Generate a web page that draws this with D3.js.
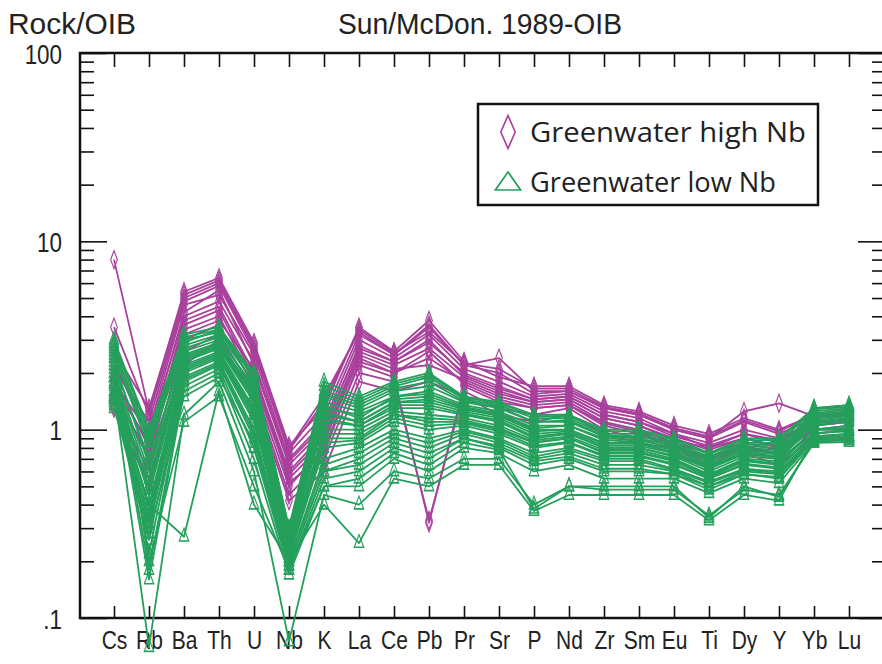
<!DOCTYPE html>
<html>
<head>
<meta charset="utf-8">
<script src="https://cdn.jsdelivr.net/npm/d3@7"></script>
<style>
  html, body { margin: 0; padding: 0; background: #fff; }
  svg { display: block; }
  .narrow { font-family: "Liberation Sans", Arial, sans-serif; }
</style>
</head>
<body>
<svg id="chart" width="882" height="664"></svg>
<script>
// Trace elements, ordered for the OIB-normalised spider diagram
const elements = ["Cs","Rb","Ba","Th","U","Nb","K","La","Ce","Pb","Pr","Sr","P","Nd","Zr","Sm","Eu","Ti","Dy","Y","Yb","Lu"];

// Sample/OIB ratios, Greenwater high-Nb group (one array per sample, in element order)
const highNb = [
  [8.0, 1.25, 5.4, 6.4, 2.9, 0.82, 1.3, 3.5, 2.6, 3.8, 2.3, 1.9, 1.7, 1.7, 1.35, 1.25, 1.05, 0.95, 1.15, 1.0, 1.2, 1.25],
  [3.5, 1.2, 5.0, 6.0, 2.7, 0.75, 1.2, 3.2, 2.5, 3.5, 2.2, 2.4, 1.6, 1.6, 1.3, 1.2, 1.0, 0.9, 1.1, 0.95, 1.15, 1.2],
  [2.8, 1.0, 4.6, 5.2, 2.5, 0.7, 1.1, 3.0, 2.4, 3.2, 2.1, 1.8, 1.5, 1.55, 1.25, 1.15, 0.95, 0.85, 1.0, 0.9, 1.1, 1.15],
  [2.3, 0.9, 4.2, 5.5, 2.2, 0.65, 1.0, 2.8, 2.3, 2.9, 2.0, 1.7, 1.45, 1.5, 1.2, 1.1, 0.95, 0.8, 0.95, 0.85, 1.1, 1.1],
  [1.9, 0.8, 3.8, 4.5, 2.0, 0.6, 0.95, 2.6, 2.2, 2.7, 1.9, 1.6, 1.4, 1.45, 1.15, 1.05, 0.9, 0.78, 0.9, 0.8, 1.05, 1.1],
  [1.6, 0.7, 3.4, 4.0, 1.8, 0.55, 0.85, 2.4, 2.0, 2.4, 1.8, 1.5, 1.35, 1.4, 1.1, 1.0, 0.85, 0.75, 0.85, 0.78, 1.0, 1.05],
  [1.4, 0.6, 3.0, 3.6, 1.7, 0.5, 0.8, 2.2, 1.9, 0.32, 1.7, 1.4, 1.3, 1.35, 1.05, 0.95, 0.8, 0.7, 0.8, 0.75, 1.0, 1.0],
  [1.3, 0.5, 2.6, 3.2, 1.6, 0.45, 0.7, 2.0, 1.8, 0.33, 1.6, 1.3, 1.2, 1.3, 1.0, 0.9, 0.78, 0.68, 0.78, 0.7, 0.95, 1.0],
  [2.1, 1.1, 4.8, 5.8, 2.6, 0.8, 1.5, 3.3, 2.5, 3.6, 2.2, 2.0, 1.55, 1.6, 1.3, 1.2, 1.0, 0.9, 1.25, 1.38, 1.18, 1.2],
  [1.5, 0.75, 3.6, 4.3, 1.9, 0.58, 0.9, 2.5, 2.1, 2.2, 1.85, 1.55, 1.4, 1.45, 1.15, 1.05, 0.88, 0.8, 0.9, 0.82, 1.05, 1.1],
  [1.8, 0.95, 4.0, 4.8, 2.3, 0.68, 1.05, 2.7, 2.3, 3.0, 1.95, 1.65, 1.45, 1.5, 1.2, 1.1, 0.92, 0.82, 0.95, 0.88, 1.08, 1.12],
  [1.35, 0.55, 2.2, 3.0, 1.5, 0.42, 0.6, 1.8, 1.6, 1.8, 1.5, 1.2, 1.1, 1.2, 0.95, 0.85, 0.75, 0.62, 0.75, 0.65, 0.92, 0.95],
  [2.6, 1.3, 5.2, 6.2, 2.8, 0.78, 1.4, 3.4, 2.55, 3.3, 2.25, 2.1, 1.65, 1.65, 1.32, 1.22, 1.02, 0.92, 1.12, 0.98, 1.2, 1.22],
  [1.7, 0.85, 3.2, 3.8, 2.1, 0.52, 0.75, 2.3, 2.0, 2.6, 1.75, 1.45, 1.3, 1.35, 1.08, 0.98, 0.82, 0.72, 0.82, 0.75, 1.0, 1.02]
];

// Sample/OIB ratios, Greenwater low-Nb group
const lowNb = [
  [3.0, 1.0, 3.2, 3.5, 2.0, 0.3, 1.8, 1.5, 1.8, 2.0, 1.5, 1.4, 1.2, 1.2, 1.0, 1.0, 0.9, 0.75, 0.9, 0.9, 1.3, 1.35],
  [2.7, 0.9, 3.0, 3.3, 1.9, 0.29, 1.6, 1.4, 1.7, 1.9, 1.45, 1.35, 1.15, 1.15, 0.95, 0.95, 0.85, 0.72, 0.85, 0.85, 1.28, 1.32],
  [2.5, 0.8, 2.8, 3.2, 1.8, 0.28, 1.5, 1.3, 1.6, 1.7, 1.4, 1.3, 1.1, 1.1, 0.92, 0.9, 0.82, 0.7, 0.82, 0.8, 1.25, 1.3],
  [2.2, 0.7, 2.6, 3.0, 1.7, 0.27, 1.4, 1.25, 1.5, 1.6, 1.35, 1.25, 1.05, 1.05, 0.9, 0.88, 0.8, 0.68, 0.8, 0.78, 1.2, 1.25],
  [2.0, 0.6, 2.5, 2.9, 1.6, 0.26, 1.3, 1.2, 1.45, 1.5, 1.3, 1.2, 1.0, 1.0, 0.85, 0.85, 0.78, 0.65, 0.78, 0.75, 1.15, 1.2],
  [1.8, 0.5, 2.4, 2.8, 1.5, 0.25, 1.2, 1.1, 1.4, 1.4, 1.25, 1.15, 0.95, 0.98, 0.82, 0.82, 0.75, 0.63, 0.75, 0.72, 1.1, 1.15],
  [1.7, 0.45, 2.3, 2.7, 1.4, 0.24, 1.1, 1.05, 1.3, 1.3, 1.2, 1.1, 0.9, 0.95, 0.8, 0.8, 0.72, 0.6, 0.72, 0.7, 1.05, 1.1],
  [1.6, 0.4, 2.2, 2.6, 1.3, 0.23, 1.0, 1.0, 1.25, 1.2, 1.15, 1.05, 0.88, 0.92, 0.78, 0.78, 0.7, 0.58, 0.7, 0.68, 1.0, 1.05],
  [1.5, 0.35, 2.1, 2.5, 1.2, 0.22, 0.9, 0.9, 1.2, 1.1, 1.1, 1.0, 0.85, 0.9, 0.75, 0.75, 0.68, 0.56, 0.68, 0.65, 1.0, 1.0],
  [1.4, 0.32, 2.0, 2.4, 1.1, 0.21, 0.8, 0.85, 1.1, 1.0, 1.05, 0.95, 0.8, 0.85, 0.72, 0.72, 0.65, 0.55, 0.65, 0.62, 0.95, 1.0],
  [1.3, 0.3, 1.9, 2.3, 1.0, 0.2, 0.7, 0.8, 1.0, 0.9, 1.0, 0.9, 0.75, 0.8, 0.7, 0.7, 0.62, 0.53, 0.62, 0.6, 0.92, 0.95],
  [2.4, 0.22, 1.8, 2.2, 0.9, 0.19, 0.6, 0.7, 0.9, 0.8, 0.95, 0.85, 0.7, 0.75, 0.65, 0.65, 0.6, 0.5, 0.6, 0.58, 0.9, 0.92],
  [2.1, 0.18, 1.7, 2.1, 0.8, 0.18, 0.55, 0.6, 0.8, 0.7, 0.9, 0.8, 0.65, 0.7, 0.6, 0.6, 0.58, 0.48, 0.58, 0.55, 0.88, 0.9],
  [1.9, 0.16, 1.6, 2.0, 0.7, 0.17, 0.5, 0.5, 0.7, 0.6, 0.8, 0.75, 0.6, 0.65, 0.55, 0.55, 0.55, 0.46, 0.55, 0.52, 0.86, 0.88],
  [1.6, 0.07, 1.2, 1.8, 0.6, 0.075, 0.45, 0.4, 0.6, 0.55, 0.7, 0.7, 0.4, 0.5, 0.48, 0.48, 0.48, 0.35, 0.48, 0.45, 0.85, 0.86],
  [1.5, 0.4, 0.27, 1.6, 0.4, 0.2, 0.4, 0.25, 0.55, 0.5, 0.65, 0.65, 0.37, 0.45, 0.45, 0.45, 0.45, 0.33, 0.45, 0.42, 0.9, 0.88],
  [2.6, 0.85, 2.9, 3.4, 1.75, 0.28, 1.55, 1.35, 1.65, 1.8, 1.42, 1.32, 1.1, 1.12, 0.93, 0.92, 0.84, 0.7, 0.84, 0.82, 1.22, 1.28],
  [2.3, 0.65, 2.7, 3.1, 1.65, 0.26, 1.35, 1.15, 1.5, 1.55, 1.32, 1.22, 1.02, 1.05, 0.88, 0.86, 0.78, 0.66, 0.78, 0.76, 1.18, 1.22],
  [1.9, 0.55, 2.45, 2.85, 1.55, 0.25, 1.25, 1.1, 1.4, 1.45, 1.28, 1.18, 0.98, 1.0, 0.84, 0.84, 0.76, 0.64, 0.76, 0.74, 1.12, 1.18],
  [1.75, 0.48, 2.35, 2.75, 1.45, 0.24, 1.15, 1.05, 1.35, 1.35, 1.22, 1.12, 0.92, 0.96, 0.8, 0.8, 0.73, 0.62, 0.74, 0.71, 1.08, 1.12],
  [1.55, 0.38, 2.15, 2.55, 1.25, 0.22, 0.95, 0.95, 1.2, 1.15, 1.12, 1.02, 0.86, 0.9, 0.76, 0.76, 0.69, 0.57, 0.69, 0.66, 1.0, 1.02],
  [1.45, 0.34, 2.05, 2.45, 1.15, 0.21, 0.85, 0.88, 1.15, 1.05, 1.08, 0.98, 0.82, 0.86, 0.73, 0.73, 0.66, 0.55, 0.66, 0.63, 0.96, 0.98],
  [1.35, 0.26, 1.85, 2.25, 0.95, 0.2, 0.65, 0.75, 0.95, 0.85, 0.98, 0.88, 0.72, 0.78, 0.68, 0.68, 0.61, 0.52, 0.61, 0.59, 0.9, 0.93],
  [2.8, 0.2, 1.1, 1.5, 0.5, 0.18, 0.5, 0.55, 0.75, 0.65, 0.85, 0.78, 0.38, 0.5, 0.5, 0.5, 0.5, 0.34, 0.5, 0.44, 0.87, 0.9],
  [1.45, 0.28, 1.5, 1.9, 0.85, 0.19, 0.6, 0.65, 0.85, 0.75, 0.9, 0.82, 0.68, 0.72, 0.62, 0.62, 0.58, 0.5, 0.58, 0.56, 0.9, 0.92],
  [2.9, 0.95, 3.1, 3.4, 1.95, 0.3, 1.7, 1.45, 1.75, 1.95, 1.48, 1.38, 1.18, 1.18, 0.98, 0.98, 0.88, 0.74, 0.88, 0.88, 1.3, 1.35]
];

const groupNames = ["Greenwater high Nb", "Greenwater low Nb"];
const groupColors = ["#a8409c", "#25a05c"];
const majorTicks = [0.1, 1, 10, 100];
const majorLabels = [".1", "1", "10", "100"];

const svg = d3.select("#chart");
const frame = { left: 80, right: 884, top: 53, bottom: 618 };

const x = d3.scalePoint().domain(elements).range([114, 849]);
const y = d3.scaleLog().domain([0.1, 100]).range([frame.bottom, frame.top]);

// minor ticks 2..9 for each decade
const minorTicks = [];
for (let d = 0.1; d < 100; d *= 10) {
  for (let k = 2; k <= 9; k++) minorTicks.push(+(k * d).toPrecision(3));
}

// squeeze a text element horizontally (condensed look)
function condense(sel, factor) {
  sel.each(function () {
    const w = this.getComputedTextLength();
    if (w > 0) {
      d3.select(this).attr("textLength", w * factor).attr("lengthAdjust", "spacingAndGlyphs");
    }
  });
}

// ---- axes ----
const axG = svg.append("g").attr("class", "axes");

axG.append("g").attr("transform", `translate(${frame.left},0)`)
  .call(d3.axisLeft(y).tickValues(minorTicks).tickSize(-14).tickFormat(""));
const yLab = axG.append("g").attr("transform", `translate(${frame.left},0)`)
  .call(d3.axisLeft(y).tickValues(majorTicks).tickSize(-27).tickPadding(0)
    .tickFormat((d, i) => majorLabels[i]));
axG.append("g").attr("transform", `translate(${frame.right},0)`)
  .call(d3.axisRight(y).tickValues(minorTicks).tickSize(-12).tickFormat(""));
axG.append("g").attr("transform", `translate(${frame.right},0)`)
  .call(d3.axisRight(y).tickValues(majorTicks).tickSize(-26).tickFormat(""));

const xLab = axG.append("g").attr("transform", `translate(0,${frame.bottom})`)
  .call(d3.axisBottom(x).tickSize(-12).tickPadding(0));
axG.append("g").attr("transform", `translate(0,${frame.top})`)
  .call(d3.axisTop(x).tickSize(-14).tickFormat(""));

axG.selectAll(".domain").remove();
axG.selectAll(".tick line").attr("stroke", "#111").attr("stroke-width", 1.6);
axG.selectAll(".tick text")
  .attr("class", "narrow")
  .attr("fill", "#222");
yLab.selectAll("text").attr("font-size", 28).attr("x", -18).attr("dy", "0.36em");
xLab.selectAll("text").attr("font-size", 25).attr("y", 13).attr("dy", "0.72em");
condense(yLab.selectAll("text"), 0.8);
condense(xLab.selectAll("text"), 0.84);

// frame
svg.append("path")
  .attr("d", `M${frame.left},${frame.bottom}V${frame.top}H${frame.right}V${frame.bottom}Z`)
  .attr("fill", "none").attr("stroke", "#111").attr("stroke-width", 2.5);

// ---- data lines ----
const line = d3.line().x((d, i) => x(elements[i])).y(d => y(d));
const diamond = d3.symbol().type(d3.symbolDiamond).size(60);
const triangle = d3.symbol().type(d3.symbolTriangle).size(60);

function drawGroup(data, color, sym, cls) {
  const g = svg.append("g").attr("class", cls);
  g.selectAll("path.ln").data(data).join("path")
    .attr("class", "ln")
    .attr("d", line)
    .attr("fill", "none")
    .attr("stroke", color)
    .attr("stroke-width", 1.8)
    .attr("stroke-linejoin", "round");
  data.forEach(s => {
    g.append("g").selectAll("path").data(s).join("path")
      .attr("transform", (d, i) => `translate(${x(elements[i])},${y(d)}) scale(0.8,1.25)`)
      .attr("d", sym)
      .attr("fill", "none")
      .attr("stroke", color)
      .attr("stroke-width", 1.3);
  });
}
drawGroup(highNb, groupColors[0], diamond, "high-nb");
drawGroup(lowNb, groupColors[1], triangle, "low-nb");

// ---- titles ----
svg.append("text").attr("class", "narrow")
  .attr("x", 8).attr("y", 34).attr("font-size", 29).attr("fill", "#222")
  .attr("textLength", 128).attr("lengthAdjust", "spacingAndGlyphs")
  .text("Rock/OIB");
svg.append("text").attr("class", "narrow")
  .attr("x", 338).attr("y", 34).attr("font-size", 29).attr("fill", "#222")
  .attr("textLength", 284).attr("lengthAdjust", "spacingAndGlyphs")
  .text("Sun/McDon. 1989-OIB");

// ---- legend ----
const lg = svg.append("g").attr("class", "legend");
lg.append("rect").attr("x", 478).attr("y", 104).attr("width", 340).attr("height", 101)
  .attr("fill", "#fff").attr("stroke", "#111").attr("stroke-width", 2.5);
const legendSyms = [d3.symbol().type(d3.symbolDiamond).size(200), d3.symbol().type(d3.symbolTriangle).size(210)];
const legendScale = ["scale(0.95,1.25)", "scale(1.15,0.95)"];
const legendLen = [276, 246];
groupNames.forEach((name, i) => {
  const cy = 132 + i * 50;
  lg.append("path")
    .attr("transform", `translate(508,${cy + (i ? 2 : 0)}) ${legendScale[i]}`)
    .attr("d", legendSyms[i])
    .attr("fill", "none").attr("stroke", groupColors[i]).attr("stroke-width", 1.6);
  lg.append("text")
    .attr("x", 530).attr("y", cy + 10)
    .attr("font-family", "'Open Sans', 'Noto Sans', sans-serif")
    .attr("font-size", 28).attr("fill", "#222")
    .attr("textLength", legendLen[i]).attr("lengthAdjust", "spacingAndGlyphs")
    .text(name);
});
</script>
</body>
</html>
